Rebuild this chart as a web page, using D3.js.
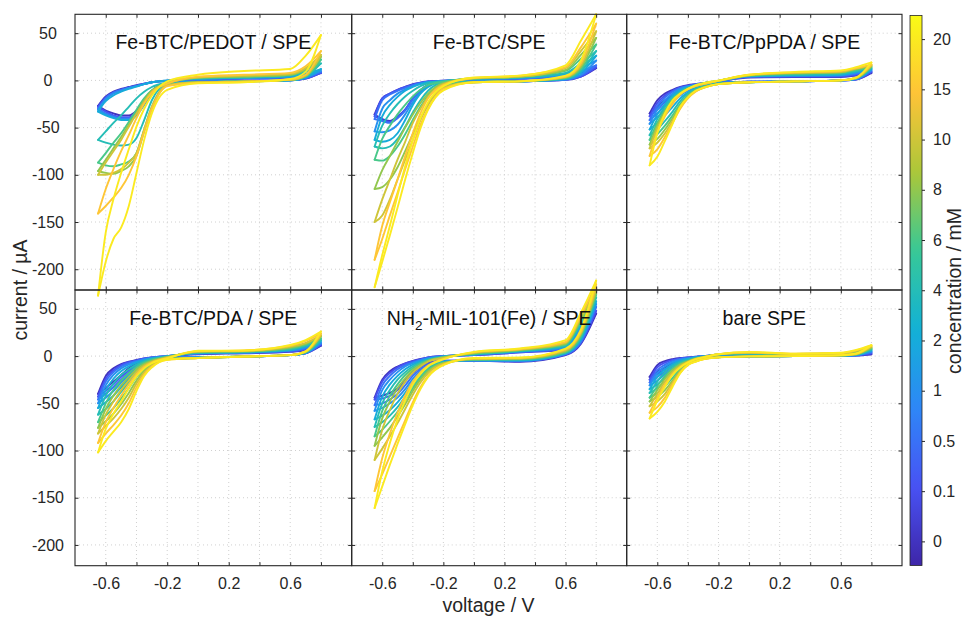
<!DOCTYPE html>
<html><head><meta charset="utf-8">
<script src="https://cdn.jsdelivr.net/npm/d3@7"></script>
<style>
body{margin:0;background:#fff;}
svg{display:block;font-family:"Liberation Sans",Arial,Helvetica,sans-serif;}
</style>
</head><body>
<svg id="chart" width="964" height="619"></svg>
<script>
// ---------------- data ----------------
const voltage = [-0.65,-0.6,-0.55,-0.5,-0.45,-0.4,-0.35,-0.3,-0.2,0,0.3,0.6,0.7,0.8];
const concentrations = [0,0.1,0.5,1,2,4,6,8,10,15,20];
const colorbarLabels = ["0","0.1","0.5","1","2","4","6","8","10","15","20"];
const xTicks = [-0.6,-0.4,-0.2,0,0.2,0.4,0.6,0.8];
const xTickLabels = [-0.6,-0.2,0.2,0.6];
const yTicks = [-200,-150,-100,-50,0,50];
const panelTitles = ["Fe-BTC/PEDOT / SPE","Fe-BTC/SPE","Fe-BTC/PpPDA / SPE","Fe-BTC/PDA / SPE","NH2-MIL-101(Fe) / SPE","bare SPE"];
const parulaStops = ["#3e26a8","#4852f4","#2e87f7","#12b1d6","#37c897","#abc739","#fec338","#f9fb15"];

// Fe-BTC/PEDOT / SPE
const pedotLower = [
 [-27,-32,-35,-37,-37,-32,-21,-11,-3,-1,-0.5,0,2,8],
 [-28,-33,-37,-39,-39,-34,-23,-12,-3,-1,-0.5,0,2,8],
 [-30,-35,-38,-40,-40,-35,-24,-12,-3.5,-1,-0.5,0,2.5,9],
 [-31,-36,-39,-41,-41,-36,-25,-13,-4,-1.5,-1,0,3,10],
 [-33,-37,-40,-42,-42,-37,-26,-14,-4,-1.5,-1,0,3,12],
 [-63,-66,-68,-69,-68,-61,-42,-21,-4,-2,-1,0,4,18],
 [-87,-90,-91,-89,-86,-77,-52,-28,-5,-2,-1,0.5,4,22],
 [-96,-98,-99,-96,-91,-80,-54,-30,-5.6,-2,-1,0.5,5,25],
 [-100,-100,-98,-94,-87,-77,-52,-28,-5,-2,-1,0.5,5,27],
 [-141,-133,-124,-114,-100,-80,-54,-30,-6,-2.5,-1.5,1,6,31],
 [-228,-192,-168,-156,-133,-98,-63,-35,-10,-3,-2,1.5,9,48]
];
const pedotUpper = [
 [-27,-17,-12,-9,-7,-5,-3.5,-2,-0.5,1,2,3,5,8],
 [-28,-18,-13,-10,-7.5,-5.5,-3.5,-2,-0.5,1,2,3,5,8],
 [-30,-19,-13,-10,-8,-6,-4,-2,-0.5,1.5,2.5,3.5,6,9],
 [-31,-20,-14,-11,-8,-6,-4,-2,0,1.5,2.5,4,6,10],
 [-33,-22,-16,-12,-9,-6.5,-4,-2,0,2,3,4,7,12],
 [-63,-54,-45,-37,-28,-19,-12,-7,-2,2,3,5,9,18],
 [-87,-77,-66,-56,-44,-31,-19,-10.5,-3,3,4,6,11,22],
 [-96,-84,-72,-60,-47,-35,-21,-11,-3,3,4,6,12,25],
 [-100,-87,-75,-63,-49,-35,-23,-12,-3.5,3,5,7,13,27],
 [-141,-115,-94,-75,-58,-40,-24.5,-13,-3.5,4,6,8,15,31],
 [-228,-161,-126,-98,-73,-49,-30,-16,-1,6,10,12,26,48]
];
// Fe-BTC/SPE
const febtcLower = [
 [-36,-41,-43,-38,-31,-19,-10.5,-5,-1,-1.5,-1,0.5,4,13],
 [-38,-42,-44,-39,-31,-19,-10.5,-5,-1,-1.5,-1,0.5,4,14],
 [-41,-43,-45,-40,-32,-20,-11,-5,-1,-1.5,-1,1,5,16],
 [-54,-55,-53,-47,-36,-23,-13,-6,-1.2,-1.5,-1,1,6,21],
 [-63,-65,-63,-56,-42,-26,-14,-7,-1.4,-1.5,-1,1.5,8,26],
 [-70,-72,-70,-62,-49,-34,-21,-11,-2.5,-1.5,-1,2,10,31],
 [-84,-85,-80,-70,-57,-42,-28,-16,-4,-2,-1,2.5,12,38],
 [-115,-113,-105,-92,-75,-57,-40,-25,-7,-2,-1,3,14,45],
 [-150,-143,-126,-105,-84,-63,-42,-26,-8,-2,-1,3.5,16,52],
 [-190,-168,-143,-119,-94,-70,-47,-30,-9,-2,-1,4,18,60],
 [-219,-192,-164,-135,-105,-77,-51,-31,-10.5,-2,-1,5,21,70]
];
const febtcUpper = [
 [-36,-19,-14,-10,-7,-4,-2.5,-1,-0.3,1,2,4,8,13],
 [-38,-19,-14,-10,-7,-4.5,-2.5,-1.2,-0.4,1,2,4,9,14],
 [-41,-21,-15,-11,-8,-5,-3,-1.5,-0.5,1,2,5,10,16],
 [-54,-30,-21,-14,-9.5,-6,-3.5,-2,-0.7,1.5,2.5,6,13,21],
 [-63,-38,-26,-17.5,-11,-7,-4,-2,-0.7,1.5,3,7,15,26],
 [-70,-48,-35,-25,-17,-11,-6,-3,-1,2,3,8,18,31],
 [-84,-62,-48,-36,-26,-17,-10,-5,-1.5,2,3.5,10,23,38],
 [-115,-95,-80,-65,-50,-36,-24,-14,-3,2,4,11,27,45],
 [-150,-126,-105,-84,-65,-45,-30,-17.5,-4,2.5,4,13,31,52],
 [-190,-154,-129,-105,-80,-56,-35,-19,-5,2.5,5,14,35,60],
 [-219,-185,-154,-122,-91,-63,-40,-23,-6,3,5,16,42,70]
];
// Fe-BTC/PpPDA / SPE
const pppdaLower = [
 [-35,-28,-21,-16,-11,-8,-6,-4,-2,-1.5,-1,0,1,8],
 [-38,-31,-23,-17,-12,-8.5,-6,-4.5,-2,-1.5,-1,0,1,9],
 [-42,-35,-27,-20,-14,-9.5,-7,-5,-2.5,-1.5,-1,0,1.5,10],
 [-46,-39,-31,-23,-16,-11,-7.5,-5.5,-3,-1.5,-1,0,1.5,11],
 [-52,-45,-37,-28,-19,-13,-8.5,-6,-3,-2,-1,0,2,12],
 [-58,-52,-43,-33,-22,-14,-9,-6.5,-3.5,-2,-1,0,2,13],
 [-63,-57,-48,-37,-25,-16,-10,-7,-3.5,-2,-1,0,2,14],
 [-68,-62,-52,-40,-27,-17,-11,-7.5,-4,-2,-1,0,2.5,15],
 [-72,-66,-56,-43,-29,-18,-11.5,-8,-4,-2,-1,0,2.5,16],
 [-80,-73,-60,-45,-30,-19,-12,-8,-4,-2,-1,0,3,17],
 [-90,-81,-64,-46,-28,-18,-11,-8,-4,-2,-1,0,3,19]
];
const pppdaUpper = [
 [-35,-21,-14,-10,-7,-5,-4,-3,-1,3,3.5,3.5,5,8],
 [-38,-24,-16,-11,-7.5,-5.5,-4,-3,-1,3.5,4,4,6,9],
 [-42,-27,-18,-12,-8,-6,-4.5,-3,-1,4,4.5,5,7,10],
 [-46,-31,-21,-14,-9,-6.5,-5,-3,-0.5,4,5,5.5,8,11],
 [-52,-36,-25,-16,-10.5,-7,-5,-3,-0.5,4.5,5.5,6,9,12],
 [-58,-41,-28,-18,-12,-8,-5.5,-3.5,-0.5,5,6,7,10,13],
 [-63,-45,-31,-20,-13,-8.5,-6,-3.5,-0.5,5,7,8,11,14],
 [-68,-48,-33,-22,-14,-9,-6,-4,-0.5,5.5,7.5,8.5,12,15],
 [-72,-51,-35,-23,-14.5,-9,-6,-4,-0.5,5.5,8,9,12.5,16],
 [-80,-55,-38,-25,-15,-9.5,-6,-4,-0.5,6,8.5,10,13,17],
 [-90,-56,-35,-21,-14,-9,-5,-3,0,6,9,10.6,14,19]
];
// Fe-BTC/PDA / SPE
const pdaLower = [
 [-40,-34,-27,-20,-13,-7.6,-4,-2.4,-0.7,-1.5,-0.5,1,3,11],
 [-43,-37,-30,-22,-15,-9,-5,-3,-1,-1.5,-0.5,1,3,12],
 [-46,-40,-33,-25,-17,-10,-6,-3.5,-1.2,-1.5,-0.5,1,3,13],
 [-50,-44,-37,-28,-20,-12,-7,-4,-1.5,-1.5,-0.5,1,3.5,14],
 [-55,-49,-42,-33,-24,-15,-9,-5,-2,-1.5,-0.5,1,3.5,16],
 [-62,-56,-48,-38,-28,-18,-11,-6.5,-2.5,-2,-0.5,1,4,17],
 [-70,-63,-55,-45,-34,-22,-13.5,-8,-3,-2,-0.5,1,4,19],
 [-76,-69,-61,-51,-39,-26,-15.5,-9,-3,-2,-0.5,1,4.5,21],
 [-82,-74,-66,-56,-44,-29,-17.5,-10,-3.5,-2,-0.5,1,4.5,22],
 [-92,-82,-73,-63,-50,-33,-19.5,-11,-4,-2,-0.5,1,5,24],
 [-102,-90,-80,-70,-56,-37,-21,-12,-4,-2,-0.5,1,5,26]
];
const pdaUpper = [
 [-40,-21,-13,-8.5,-6,-4,-2.5,-1.4,0,2,3,4.5,6,11],
 [-43,-24,-15,-9.5,-6.5,-4.5,-2.5,-1.5,0,2.5,3.5,5,7,12],
 [-46,-27,-17,-11,-7.5,-5,-3,-1.5,0,3,3.5,5.5,8,13],
 [-50,-31,-20,-13,-9,-6,-3.5,-2,0,3,4,6,9,14],
 [-55,-36,-24,-16,-11,-7,-4.5,-2.5,-0.5,3.5,4,6.5,10,16],
 [-62,-42,-29,-20,-14,-9,-5.5,-3,-0.5,3.5,4.5,7,11,17],
 [-70,-50,-36,-26,-18,-11.5,-7,-4,-1,4,5,8,12,19],
 [-76,-56,-42,-31,-22,-14,-8.5,-5,-1,4.5,5,9,13,21],
 [-82,-62,-48,-36,-26,-16.5,-10,-6,-1.5,5,5.5,10,14,22],
 [-92,-70,-55,-42,-30,-19,-11.5,-7,-2,5,6,11,16,24],
 [-102,-77,-61,-48,-34,-21.5,-13,-7.6,-2.4,5.6,6,11.7,17,26]
];
// NH2-MIL-101(Fe) / SPE
const milLower = [
 [-44,-42,-39,-34,-25,-16,-10.5,-7,-5,-5,-6,1,13,45],
 [-46,-45,-42,-36,-27,-18,-12,-8,-5,-5,-5.5,1.5,14,48],
 [-52,-50,-46,-40,-31,-21,-14,-9,-5.5,-5,-5,2,15,52],
 [-58,-55,-50,-44,-35,-24,-16,-10,-6,-4.5,-5,2.5,16,55],
 [-67,-63,-57,-49,-39,-27,-18,-11.5,-6,-4.5,-4.5,3,18,58],
 [-75,-70,-63,-54,-43,-31,-21,-13,-6.5,-4,-4,3.5,19,62],
 [-85,-78,-69,-59,-47,-34,-23,-14.5,-7,-4,-3.5,4,21,65],
 [-95,-86,-76,-64,-51,-37,-25,-16,-7.5,-3.5,-3,5,23,68],
 [-110,-98,-85,-71,-56,-41,-28,-18,-8,-3,-2.5,6,24,72],
 [-143,-125,-106,-87,-68,-49,-33,-21,-9,-2.5,-2,7,26,76],
 [-161,-138,-115,-93,-72,-52,-35,-22,-9.5,-2,-1.5,8,28,80]
];
const milUpper = [
 [-44,-25,-16,-11,-7.6,-5,-3,-1.4,0,1,4,7,25,45],
 [-46,-27,-18,-12,-8,-5.5,-3.5,-1.5,0,1,4,7.5,27,48],
 [-52,-31,-21,-14,-9.5,-6.5,-4,-2,0,1.5,4.5,8,29,52],
 [-58,-36,-25,-17,-11,-7.5,-4.5,-2.5,-0.5,1.5,5,9,31,55],
 [-67,-43,-30,-21,-14,-9,-5.5,-3,-0.5,2,5,10,33,58],
 [-75,-50,-36,-25,-17,-11,-7,-4,-1,2,5.5,11,35,62],
 [-85,-58,-42,-30,-20,-13,-8,-4.5,-1,2.5,6,12,37,65],
 [-95,-66,-48,-34,-23.5,-15,-9.5,-5,-1.5,3,6.5,13,39,68],
 [-110,-78,-57,-40,-27,-17.5,-11,-6,-2,3.5,7,14,41,72],
 [-143,-108,-82,-60,-42,-27,-17,-10,-3,4,7.5,15,43,76],
 [-161,-122,-92,-67,-47,-30,-19,-11,-3.5,4.5,8,17,46,80]
];
// bare SPE
const bareLower = [
 [-22,-16.5,-12,-8,-5,-3.2,-2,-1.4,-0.7,-0.3,0,0,0.5,2],
 [-25,-19,-14,-9,-6,-4,-2.5,-1.5,-0.7,-0.3,0,0,0.5,3],
 [-28,-22,-16.5,-11,-7,-4.5,-3,-1.8,-0.8,-0.3,0,0.2,0.8,4],
 [-31,-26,-19,-13,-8,-5,-3.2,-2,-0.9,-0.3,0,0.3,1,5],
 [-35,-30,-23,-16,-10,-6,-3.8,-2.2,-1,-0.3,0,0.4,1.2,6],
 [-39,-34,-27,-19,-12,-7,-4.3,-2.5,-1.1,-0.3,0,0.5,1.5,7],
 [-44,-39,-32,-23,-14,-8,-5,-2.8,-1.2,-0.3,0,0.6,1.8,8],
 [-48,-43,-36,-26,-15.5,-8.5,-5.3,-3,-1.3,-0.3,0,0.7,2,9],
 [-53,-48,-40,-28,-16.5,-9,-5.6,-3.2,-1.3,-0.3,0,0.8,2.2,10],
 [-60,-54,-44,-30,-17.5,-9.3,-5.8,-3.4,-1.4,-0.3,0,0.9,2.5,11],
 [-66,-59,-48,-32.5,-18,-9.5,-6,-3.5,-1.4,-0.3,0,1,2.8,11.6]
];
const bareUpper = [
 [-22,-9.5,-5.3,-3.2,-2,-1.4,-0.7,0,0.7,1.5,1,1,1.5,2],
 [-25,-12,-7,-4,-2.5,-1.5,-0.8,0,1,2,1.2,1.2,2,3],
 [-28,-15,-9,-5,-3,-2,-1,0,1,2,1.3,1.5,2.5,4],
 [-31,-18,-11,-6.5,-4,-2.5,-1.2,-0.3,1.2,2.5,1.5,1.8,3,5],
 [-35,-22,-14,-8.5,-5,-3,-1.5,-0.5,1.4,2.5,1.7,2,3.5,6],
 [-39,-27,-17,-10.5,-6.5,-4,-2,-0.7,1.6,3,1.9,2.2,4,7],
 [-44,-32,-21,-13,-8,-5,-2.5,-0.9,1.8,3,2,2.5,4.5,8],
 [-48,-36,-24,-15,-9,-5.5,-2.8,-1,1.9,3.5,2.2,2.7,5,9],
 [-53,-40,-27,-17,-10.5,-6,-3.1,-1.2,2,3.5,2.3,3,5.5,10],
 [-60,-44,-30,-19,-11.5,-6.5,-3.3,-1.3,2,4,2.5,3.2,6,11],
 [-66,-47,-32.5,-20,-12,-7,-3.5,-1.4,2,4.5,2.5,3.5,6.5,11.6]
];

const panels = [
  {title: panelTitles[0], lower: pedotLower, upper: pedotUpper},
  {title: panelTitles[1], lower: febtcLower, upper: febtcUpper},
  {title: panelTitles[2], lower: pppdaLower, upper: pppdaUpper},
  {title: panelTitles[3], lower: pdaLower, upper: pdaUpper},
  {title: panelTitles[4], lower: milLower, upper: milUpper},
  {title: panelTitles[5], lower: bareLower, upper: bareUpper}
];

// ---------------- drawing ----------------
const svg = d3.select("#chart");
const colX = [75, 351.7, 626.7, 902];
const rowY = [14.3, 290, 565.7];
const axisColor = "#262626";
const parula = d3.scaleLinear().domain(d3.range(parulaStops.length).map(i => i/(parulaStops.length-1)))
  .range(parulaStops).interpolate(d3.interpolateRgb);
const cbY = d3.scaleLinear().domain([-0.48, 10.47]).range([565.5, 15.5]);
const colorOf = i => parula((i + 0.48) / 10.95);

const gridLayer = svg.append("g");
const curveLayer = svg.append("g");
const frameLayer = svg.append("g");

panels.forEach((p, k) => {
  const c = k % 3, r = Math.floor(k / 3);
  const x = d3.scaleLinear().domain([-0.8, 1.0]).range([colX[c], colX[c+1]]);
  const y = d3.scaleLinear().domain([-222, 70]).range([rowY[r+1], rowY[r]]);

  // grid
  const gg = gridLayer.append("g");
  gg.selectAll("line.gx").data(xTicks).join("line")
    .attr("x1", d => x(d)).attr("x2", d => x(d)).attr("y1", rowY[r]).attr("y2", rowY[r+1]);
  gg.selectAll("line.gy").data(yTicks).join("line")
    .attr("x1", colX[c]).attr("x2", colX[c+1]).attr("y1", d => y(d)).attr("y2", d => y(d));
  gg.selectAll("line").attr("stroke", "#c4c4c4").attr("stroke-width", 0.8).attr("stroke-dasharray", "1,3");

  // curves
  const line = d3.line().x((d, i) => x(voltage[i])).y(d => y(d)).curve(d3.curveMonotoneX);
  const cg = curveLayer.append("g").attr("fill", "none").attr("stroke-width", 1.9)
    .attr("stroke-linejoin", "round").attr("stroke-linecap", "round");
  concentrations.forEach((conc, i) => {
    cg.append("path").attr("d", line(p.lower[i])).attr("stroke", colorOf(i));
    cg.append("path").attr("d", line(p.upper[i])).attr("stroke", colorOf(i));
  });

  // frame with inward ticks
  const fg = frameLayer.append("g");
  const addAxis = (axis, tx, ty) => {
    const a = fg.append("g").attr("transform", `translate(${tx},${ty})`).call(axis);
    a.select(".domain").remove();
    a.selectAll("line").attr("stroke", axisColor);
    a.selectAll("text").remove();
  };
  addAxis(d3.axisBottom(x).tickValues(xTicks).tickSize(-3.5), 0, rowY[r+1]);
  addAxis(d3.axisTop(x).tickValues(xTicks).tickSize(-3.5), 0, rowY[r]);
  addAxis(d3.axisLeft(y).tickValues(yTicks).tickSize(-3.5), colX[c], 0);
  addAxis(d3.axisRight(y).tickValues(yTicks).tickSize(-3.5), colX[c+1], 0);
  fg.append("rect").attr("x", colX[c]).attr("y", rowY[r])
    .attr("width", colX[c+1] - colX[c]).attr("height", rowY[r+1] - rowY[r])
    .attr("fill", "none").attr("stroke", axisColor).attr("stroke-width", 1.1);

  // tick labels
  if (c === 0) {
    fg.selectAll("text.yl").data(yTicks).join("text")
      .attr("x", 48).attr("y", d => y(d)).attr("dy", "0.35em")
      .attr("text-anchor", "middle").attr("font-size", 16).attr("fill", axisColor)
      .text(d => String(d));
  }
  if (r === 1) {
    const a = fg.append("g").attr("transform", `translate(0,${rowY[2]})`)
      .call(d3.axisBottom(x).tickValues(xTickLabels).tickSize(0).tickPadding(12).tickFormat(d => String(d)));
    a.select(".domain").remove();
    a.selectAll("text").attr("font-size", 16).attr("fill", axisColor)
      .attr("font-family", '"Liberation Sans",Arial,sans-serif');
  }

  // title
  const cx = (colX[c] + colX[c+1]) / 2;
  const t = fg.append("text").attr("x", cx).attr("y", rowY[r] + 35)
    .attr("text-anchor", "middle").attr("font-size", 19.5).attr("fill", "#111");
  if (p.title.startsWith("NH2")) {
    t.append("tspan").text("NH");
    t.append("tspan").attr("font-size", 13.5).attr("dy", 5).text("2");
    t.append("tspan").attr("dy", -5).text(p.title.slice(3));
  } else {
    t.text(p.title);
  }
});

// axis labels
svg.append("text").attr("x", 488.5).attr("y", 612).attr("text-anchor", "middle")
  .attr("font-size", 19.5).attr("fill", axisColor).text("voltage / V");
svg.append("text").attr("transform", "translate(27,290) rotate(-90)").attr("text-anchor", "middle")
  .attr("font-size", 19.5).attr("fill", axisColor).text("current / µA");

// colorbar
const defs = svg.append("defs");
const grad = defs.append("linearGradient").attr("id", "parulaGrad")
  .attr("x1", 0).attr("y1", 1).attr("x2", 0).attr("y2", 0);
d3.range(0, 1.0001, 0.02).forEach(tv => {
  grad.append("stop").attr("offset", tv).attr("stop-color", parula(tv));
});
const cbX0 = 910, cbX1 = 922;
svg.append("rect").attr("x", cbX0).attr("y", cbY.range()[1]).attr("width", cbX1 - cbX0)
  .attr("height", cbY.range()[0] - cbY.range()[1]).attr("fill", "url(#parulaGrad)")
  .attr("stroke", axisColor).attr("stroke-width", 0.8);
const cba = svg.append("g").attr("transform", `translate(${cbX1},0)`)
  .call(d3.axisRight(cbY).tickValues(d3.range(colorbarLabels.length)).tickSize(3).tickPadding(8)
    .tickFormat(i => colorbarLabels[i]));
cba.select(".domain").remove();
cba.selectAll("line").attr("stroke", axisColor);
cba.selectAll("text").attr("font-size", 16).attr("fill", axisColor)
  .attr("font-family", '"Liberation Sans",Arial,sans-serif');
svg.append("text").attr("transform", "translate(961,291) rotate(-90)").attr("text-anchor", "middle")
  .attr("font-size", 19.5).attr("fill", axisColor).text("concentration / mM");
</script>
</body></html>
